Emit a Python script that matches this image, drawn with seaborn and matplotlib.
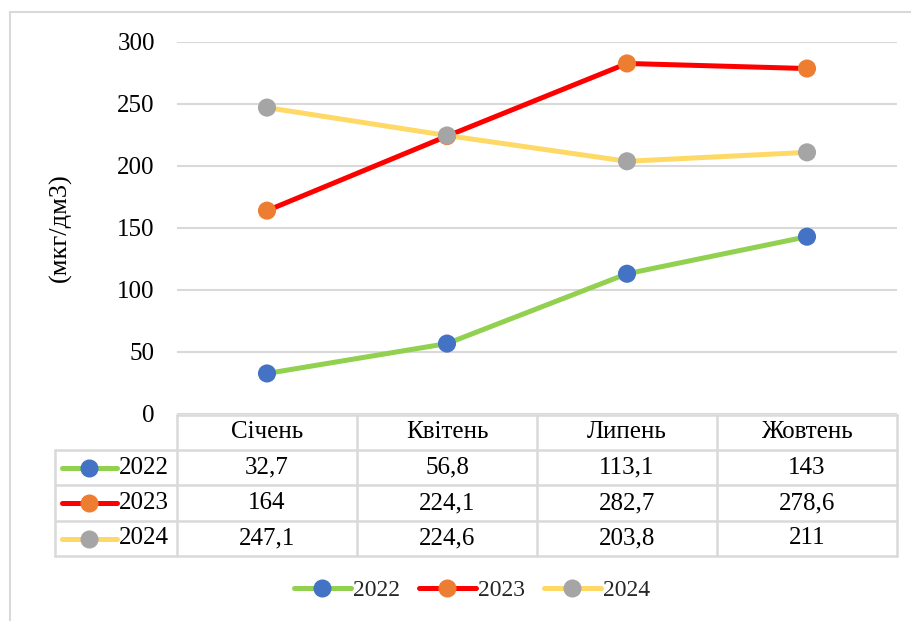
import pandas as pd
import seaborn as sns
import matplotlib.pyplot as plt
from matplotlib.lines import Line2D

# data
months = ["Січень", "Квітень", "Липень", "Жовтень"]
years = ["2022", "2023", "2024"]
v2022 = [32.7, 56.8, 113.1, 143]
v2023 = [164, 224.1, 282.7, 278.6]
v2024 = [247.1, 224.6, 203.8, 211]
labels2022 = ["32,7", "56,8", "113,1", "143"]
labels2023 = ["164", "224,1", "282,7", "278,6"]
labels2024 = ["247,1", "224,6", "203,8", "211"]

line_colors = {"2022": "#92D050", "2023": "#FF0000", "2024": "#FFD966"}
marker_colors = {"2022": "#4472C4", "2023": "#ED7D31", "2024": "#A5A5A5"}

df = pd.DataFrame({
    "month": months * 3,
    "year": ["2022"] * 4 + ["2023"] * 4 + ["2024"] * 4,
    "value": v2022 + v2023 + v2024,
})

sns.set_theme(style="white")
plt.rcParams["font.family"] = ["Liberation Serif", "DejaVu Serif"]

W, H = 912, 621
fig = plt.figure(figsize=(W / 100, H / 100), dpi=100)
ax = fig.add_axes([177 / W, 1 - 414 / H, 720 / W, 372 / H])

sns.lineplot(data=df, x="month", y="value", hue="year", palette=line_colors,
             linewidth=3.6, sort=False, ax=ax, legend=False, zorder=3)
sns.scatterplot(data=df, x="month", y="value", hue="year", palette=marker_colors,
                s=170, edgecolor="none", ax=ax, legend=False, zorder=4)

ax.set_xlim(-0.5, 3.5)
ax.set_ylim(0, 300)
ax.set_yticks(range(0, 301, 50))
ax.set_xticks([])
ax.set_xlabel("")
ax.set_ylabel("")
ax.grid(axis="y", color="#D9D9D9", linewidth=1.5)
ax.set_axisbelow(True)
for s in ax.spines.values():
    s.set_visible(False)
ax.tick_params(axis="y", length=0, pad=16, labelsize=18, labelcolor="black")

fig.text(60 / W, 1 - 228 / H, "(мкг/дм3)", rotation=90, ha="center", va="center",
         fontsize=19, color="black")


# data table below the plot, drawn in axes coords
def axx(px):
    return (px - 177) / 720


def axy(py):
    return (414 - py) / 372


grid_kw = dict(color="#D9D9D9", linewidth=1.8, clip_on=False, transform=ax.transAxes, zorder=1)
rows_y = [415, 450, 485, 521, 556]
ax.plot([0, 1], [axy(415)] * 2, **grid_kw)
for py in rows_y[1:]:
    ax.plot([axx(55), 1], [axy(py)] * 2, **grid_kw)
for px in [177, 357, 537, 717, 897]:
    ax.plot([axx(px)] * 2, [axy(415), axy(556)], **grid_kw)
ax.plot([axx(55)] * 2, [axy(450), axy(556)], **grid_kw)

for i, m in enumerate(months):
    ax.text((i + 0.5) / 4, axy(432), m, transform=ax.transAxes, ha="center",
            va="center", fontsize=18, color="black")

table_rows = [labels2022, labels2023, labels2024]
for r, (yr, vals) in enumerate(zip(years, table_rows)):
    cy = axy((rows_y[r + 1] + rows_y[r + 2]) / 2)
    ax.plot([axx(62), axx(117)], [cy, cy], color=line_colors[yr], linewidth=3.6,
            transform=ax.transAxes, clip_on=False, solid_capstyle="round")
    ax.plot([axx(89.5)], [cy], "o", color=marker_colors[yr], markersize=12,
            transform=ax.transAxes, clip_on=False)
    ax.text(axx(119), cy, yr, transform=ax.transAxes, ha="left", va="center",
            fontsize=18, color="black")
    for i, v in enumerate(vals):
        ax.text((i + 0.5) / 4, cy, v, transform=ax.transAxes, ha="center",
                va="center", fontsize=18, color="black")

handles = [Line2D([0], [0], color=line_colors[y], linewidth=3.6, marker="o",
                  markersize=12, markerfacecolor=marker_colors[y],
                  markeredgecolor=marker_colors[y]) for y in years]
fig.legend(handles, years, loc="center", bbox_to_anchor=(472 / W, 1 - 590 / H),
           ncol=3, frameon=False, fontsize=17, handlelength=2.4, handletextpad=0.1,
           columnspacing=0.8)

# outer chart border (top and left edges visible)
fig.add_artist(Line2D([10 / W, 1], [1 - 12 / H] * 2, color="#D9D9D9", linewidth=1.5))
fig.add_artist(Line2D([10 / W] * 2, [0, 1 - 12 / H], color="#D9D9D9", linewidth=1.5))

fig.savefig("out.png", dpi=100)
